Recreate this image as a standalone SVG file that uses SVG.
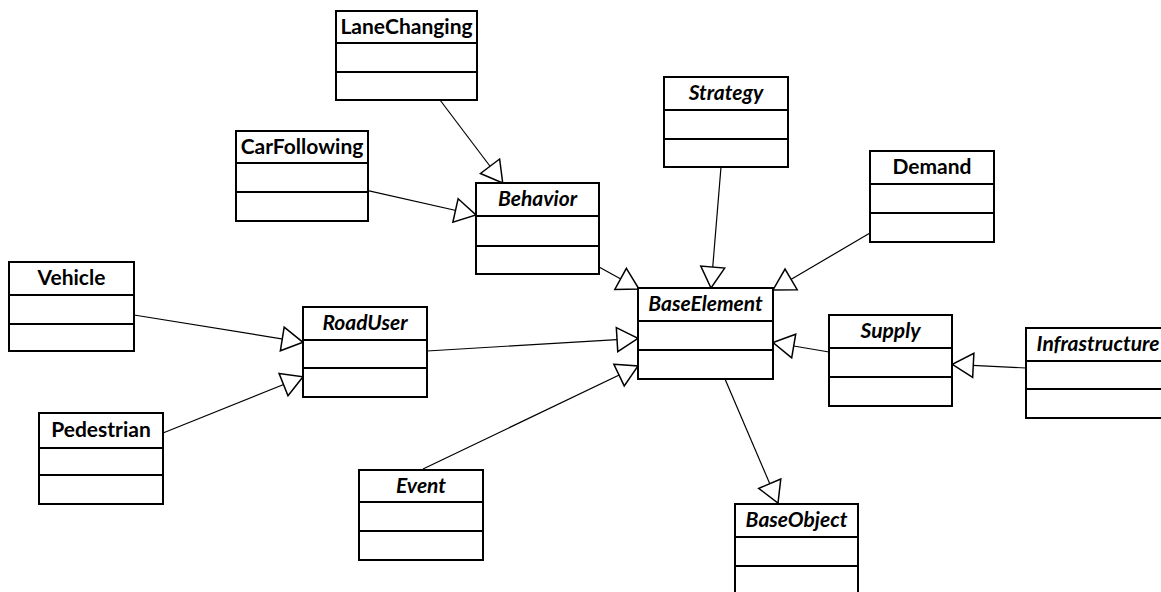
<svg xmlns="http://www.w3.org/2000/svg" width="1161" height="592" viewBox="0 0 1161 592">
  <defs>
    <style>
      .box { fill: #ffffff; stroke: #000000; stroke-width: 2; }
      .div { stroke: #000000; stroke-width: 2; }
      .name { font-family: Lato, "Liberation Sans", sans-serif; font-size: 21px; font-weight: bold; fill: #000000; text-anchor: middle; }
      .abstract { font-style: italic; }
      .conn { stroke: #000000; stroke-width: 1.2; fill: none; marker-end: url(#gen); }
    </style>
    <!-- hollow triangle for generalization -->
    <marker id="gen" viewBox="-2 -14 25 28" refX="21" refY="0" markerWidth="25" markerHeight="28" markerUnits="userSpaceOnUse" orient="auto">
      <path d="M0,-12 L21,0 L0,12 Z" fill="#ffffff" stroke="#000000" stroke-width="1.5" stroke-linejoin="miter"/>
    </marker>
  </defs>

  <rect width="1161" height="592" fill="#ffffff"/>

  <!-- generalization links -->
  <g id="connectors">
    <line class="conn" x1="440" y1="100" x2="502.7" y2="183"/>
    <line class="conn" x1="368" y1="190.7" x2="476" y2="215"/>
    <line class="conn" x1="599" y1="267" x2="639" y2="289"/>
    <line class="conn" x1="721" y1="167" x2="711" y2="288"/>
    <line class="conn" x1="870" y1="233" x2="773" y2="290"/>
    <line class="conn" x1="427" y1="351" x2="638" y2="338.3"/>
    <line class="conn" x1="423" y1="469" x2="638" y2="366"/>
    <line class="conn" x1="829" y1="352" x2="773" y2="342.5"/>
    <line class="conn" x1="725" y1="379" x2="778" y2="503"/>
    <line class="conn" x1="1026" y1="368" x2="952.3" y2="364.3"/>
    <line class="conn" x1="134" y1="315" x2="303" y2="342.3"/>
    <line class="conn" x1="163" y1="433" x2="303" y2="376.7"/>
  </g>

  <g id="LaneChanging">
    <rect class="box" x="336" y="11" width="141" height="89"/>
    <line class="div" x1="336" y1="43" x2="477" y2="43"/>
    <line class="div" x1="336" y1="72" x2="477" y2="72"/>
    <text class="name" x="406.5" y="34">LaneChanging</text>
  </g>

  <g id="CarFollowing">
    <rect class="box" x="236" y="131" width="132" height="90"/>
    <line class="div" x1="236" y1="163" x2="368" y2="163"/>
    <line class="div" x1="236" y1="192" x2="368" y2="192"/>
    <text class="name" x="302" y="154">CarFollowing</text>
  </g>

  <g id="Behavior">
    <rect class="box" x="476" y="183" width="123" height="91"/>
    <line class="div" x1="476" y1="216" x2="599" y2="216"/>
    <line class="div" x1="476" y1="246" x2="599" y2="246"/>
    <text class="name abstract" x="537.5" y="206">Behavior</text>
  </g>

  <g id="Strategy">
    <rect class="box" x="664" y="77" width="124" height="90"/>
    <line class="div" x1="664" y1="110" x2="788" y2="110"/>
    <line class="div" x1="664" y1="139" x2="788" y2="139"/>
    <text class="name abstract" x="726" y="100">Strategy</text>
  </g>

  <g id="Demand">
    <rect class="box" x="870" y="151" width="124" height="91"/>
    <line class="div" x1="870" y1="184" x2="994" y2="184"/>
    <line class="div" x1="870" y1="213" x2="994" y2="213"/>
    <text class="name" x="932" y="174">Demand</text>
  </g>

  <g id="BaseElement">
    <rect class="box" x="638" y="288" width="135" height="91"/>
    <line class="div" x1="638" y1="321" x2="773" y2="321"/>
    <line class="div" x1="638" y1="350" x2="773" y2="350"/>
    <text class="name abstract" x="705.5" y="311">BaseElement</text>
  </g>

  <g id="RoadUser">
    <rect class="box" x="303" y="307" width="124" height="90"/>
    <line class="div" x1="303" y1="340" x2="427" y2="340"/>
    <line class="div" x1="303" y1="368" x2="427" y2="368"/>
    <text class="name abstract" x="365" y="330">RoadUser</text>
  </g>

  <g id="Vehicle">
    <rect class="box" x="9" y="262" width="125" height="89"/>
    <line class="div" x1="9" y1="295" x2="134" y2="295"/>
    <line class="div" x1="9" y1="324" x2="134" y2="324"/>
    <text class="name" x="71.5" y="285">Vehicle</text>
  </g>

  <g id="Pedestrian">
    <rect class="box" x="39" y="413" width="124" height="91"/>
    <line class="div" x1="39" y1="448" x2="163" y2="448"/>
    <line class="div" x1="39" y1="475" x2="163" y2="475"/>
    <text class="name" x="101" y="437">Pedestrian</text>
  </g>

  <g id="Event">
    <rect class="box" x="359" y="470" width="124" height="90"/>
    <line class="div" x1="359" y1="502" x2="483" y2="502"/>
    <line class="div" x1="359" y1="531" x2="483" y2="531"/>
    <text class="name abstract" x="421" y="493">Event</text>
  </g>

  <g id="Supply">
    <rect class="box" x="829" y="315" width="123" height="91"/>
    <line class="div" x1="829" y1="348" x2="952" y2="348"/>
    <line class="div" x1="829" y1="377" x2="952" y2="377"/>
    <text class="name abstract" x="890.5" y="338">Supply</text>
  </g>

  <g id="Infrastructure">
    <rect class="box" x="1026" y="328" width="140" height="90"/>
    <line class="div" x1="1026" y1="361" x2="1166" y2="361"/>
    <line class="div" x1="1026" y1="389" x2="1166" y2="389"/>
    <text class="name abstract" x="1098" y="351">Infrastructure</text>
  </g>

  <g id="BaseObject">
    <rect class="box" x="735" y="504" width="123" height="91"/>
    <line class="div" x1="735" y1="537" x2="858" y2="537"/>
    <line class="div" x1="735" y1="566" x2="858" y2="566"/>
    <text class="name abstract" x="796.5" y="527">BaseObject</text>
  </g>
</svg>
